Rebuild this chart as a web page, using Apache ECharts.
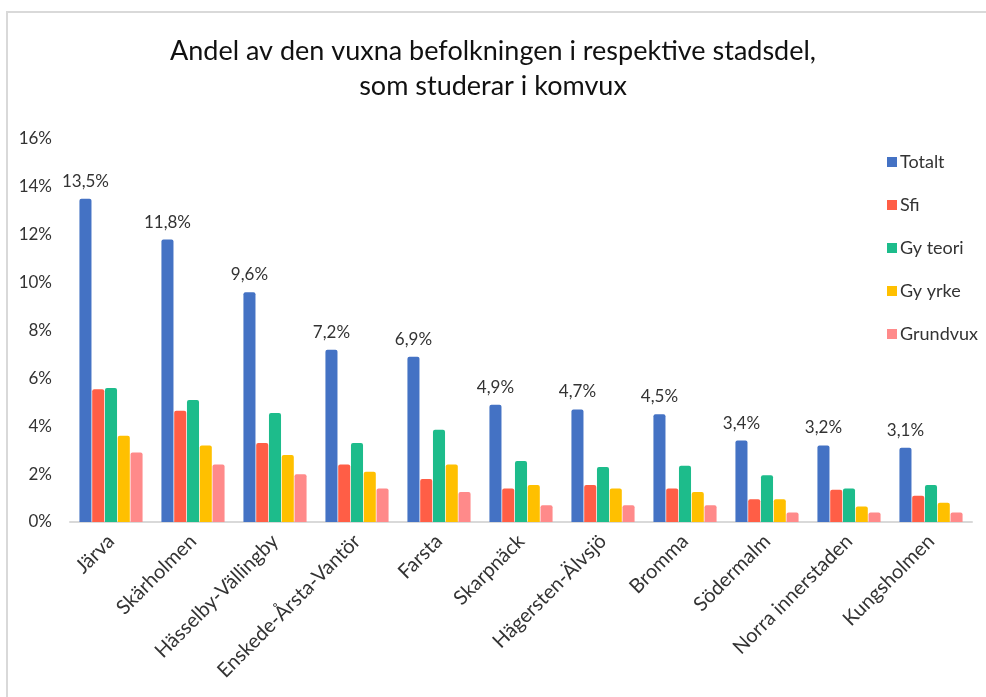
<!DOCTYPE html>
<html>
<head>
<meta charset="utf-8">
<script src="https://cdn.jsdelivr.net/npm/echarts@6/dist/echarts.min.js"></script>
<style>
  html, body { margin: 0; padding: 0; background: #fff; }
  #chart { width: 986px; height: 697px; }
</style>
</head>
<body>
<div id="chart"></div>
<script>
// Stadsdelar (categories)
const districts = ['Järva', 'Skärholmen', 'Hässelby-Vällingby', 'Enskede-Årsta-Vantör', 'Farsta',
  'Skarpnäck', 'Hägersten-Älvsjö', 'Bromma', 'Södermalm', 'Norra innerstaden', 'Kungsholmen'];

// Andel (%) per kategori
const totalt   = [13.5, 11.8, 9.6, 7.2, 6.9, 4.9, 4.7, 4.5, 3.4, 3.2, 3.1];
const sfi      = [5.55, 4.65, 3.3, 2.4, 1.8, 1.4, 1.55, 1.4, 0.95, 1.35, 1.1];
const gyTeori  = [5.6, 5.1, 4.55, 3.3, 3.85, 2.55, 2.3, 2.35, 1.95, 1.4, 1.55];
const gyYrke   = [3.6, 3.2, 2.8, 2.1, 2.4, 1.55, 1.4, 1.25, 0.95, 0.65, 0.8];
const grundvux = [2.9, 2.4, 2.0, 1.4, 1.25, 0.7, 0.7, 0.7, 0.4, 0.4, 0.4];

const seriesNames = ['Totalt', 'Sfi', 'Gy teori', 'Gy yrke', 'Grundvux'];
const seriesData = [totalt, sfi, gyTeori, gyYrke, grundvux];
const colors = ['#4472C4', '#FF5E46', '#1DBC8B', '#FFC000', '#FF8A8A'];

const font = 'Lato, "Open Sans", sans-serif';
const textColor = '#333333';

const chart = echarts.init(document.getElementById('chart'), null, { renderer: 'canvas' });

const series = seriesNames.map((name, i) => ({
  name,
  type: 'bar',
  data: seriesData[i],
  barGap: '6%',
  barCategoryGap: '23%',
  itemStyle: { color: colors[i], borderRadius: [2, 2, 0, 0] },
  label: i === 0 ? {
    show: true,
    position: 'top',
    distance: 9,
    color: textColor,
    fontFamily: font,
    fontSize: 17,
    formatter: p => p.value.toFixed(1).replace('.', ',') + '%'
  } : { show: false }
}));

chart.setOption({
  animation: false,
  backgroundColor: '#fff',
  color: colors,
  graphic: [{
    type: 'rect',
    shape: { x: 7, y: 12, width: 1000, height: 700 },
    style: { fill: 'none', stroke: '#d9d9d9', lineWidth: 2 },
    silent: true,
    z: -1
  }],
  title: {
    text: 'Andel av den vuxna befolkningen i respektive stadsdel,\nsom studerar i komvux',
    left: 'center',
    top: 29,
    textStyle: {
      fontFamily: font,
      fontSize: 27,
      fontWeight: 'normal',
      color: '#111111',
      lineHeight: 35
    }
  },
  legend: {
    orient: 'vertical',
    left: 882,
    top: 147,
    itemWidth: 10,
    itemHeight: 10,
    itemGap: 23,
    icon: 'rect',
    textStyle: { fontFamily: font, fontSize: 18, color: textColor, padding: [0, 0, 0, -2], lineHeight: 20 },
    data: seriesNames
  },
  grid: { left: 70, right: 14, top: 139, bottom: 175, containLabel: false },
  xAxis: {
    type: 'category',
    data: districts,
    axisLine: { lineStyle: { color: '#d9d9d9', width: 2 } },
    axisTick: { show: false },
    axisLabel: {
      rotate: 45,
      interval: 0,
      margin: 16,
      fontFamily: font,
      fontSize: 20,
      color: textColor
    }
  },
  yAxis: {
    type: 'value',
    min: 0,
    max: 16,
    interval: 2,
    splitLine: { show: false },
    axisLine: { show: false },
    axisTick: { show: false },
    axisLabel: {
      formatter: '{value}%',
      fontFamily: font,
      fontSize: 17,
      color: textColor,
      margin: 18
    }
  },
  series
});
</script>
</body>
</html>
